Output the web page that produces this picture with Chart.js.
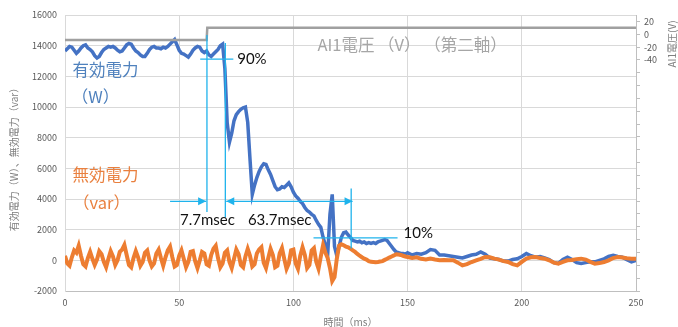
<!DOCTYPE html>
<html>
<head>
<meta charset="utf-8">
<script src="https://cdn.jsdelivr.net/npm/chart.js@4/dist/chart.umd.min.js"></script>
<style>
    html, body { margin: 0; padding: 0; background: #fff; }
</style>
</head>
<body>
<canvas id="chart" width="678" height="327"></canvas>
<script>
"use strict";

// time axis (ms)
const timeMs = [
    0, 1, 2, 3, 4, 5, 6, 7, 8, 9, 10, 11, 12, 13, 14, 15, 16, 17, 18, 19,
    20, 21, 22, 23, 24, 25, 26, 27, 28, 29, 30, 31, 32, 33, 34, 35, 36, 37, 38, 39,
    40, 41, 42, 43, 44, 45, 46, 47, 48, 49, 50, 51, 52, 53, 54, 55, 56, 57, 58, 59,
    60, 61, 62, 63, 64, 65, 66, 67, 68, 69, 70, 71, 72, 73, 74, 75, 76, 77, 78, 79,
    80, 81, 82, 83, 84, 85, 86, 87, 88, 89, 90, 91, 92, 93, 94, 95, 96, 97, 98, 99,
    100, 101, 102, 103, 104, 105, 106, 107, 108, 109, 110, 111, 112, 113, 114, 115, 116, 117, 118, 119,
    120, 121, 122, 123, 124, 125, 126, 127, 128, 129, 130, 131, 132, 133, 134, 135, 136, 137, 138, 139,
    140, 141, 142, 143, 144, 145, 146, 147, 148, 149, 150,
    152, 154, 156, 158, 160, 162, 164, 166, 168, 170,
    172, 174, 176, 178, 180, 182, 184, 186, 188, 190,
    192, 194, 196, 198, 200, 202, 204, 206, 208, 210,
    212, 214, 216, 218, 220, 222, 224, 226, 228, 230,
    232, 234, 236, 238, 240, 242, 244, 246, 248, 250
];

// 有効電力 (W)
const activePower = [
    13650, 13800, 13950, 13900, 13700, 13500, 13650, 13850, 14000, 14050,
    13850, 13750, 13600, 13350, 13200, 13300, 13550, 13750, 13850, 13950,
    13900, 13950, 13850, 13700, 13600, 13650, 13850, 14050, 14150, 14100,
    13850, 13650, 13550, 13400, 13300, 13300, 13500, 13750, 13900, 13950,
    13850, 13850, 13800, 13900, 13850, 13950, 14100, 14250, 14400, 14050,
    13700, 13500, 13450, 13350, 13250, 13450, 13700, 13850, 13950, 13900,
    13650, 13550, 13650, 13400, 13300, 13450, 13600, 13750, 14000, 14100,
    12500, 9000, 7700, 8300, 9100, 9500, 9700, 9850, 9950, 10000,
    9000, 6600, 4300, 4900, 5400, 5800, 6100, 6300, 6250, 5900,
    5600, 5200, 4800, 4600, 4650, 4800, 4750, 4900, 5050, 4800,
    4450, 4200, 4050, 3850, 3700, 3450, 3250, 3150, 3000, 2900,
    2600, 2350, 2150, 1500, 1000, 350, 3000, 4300, 900, 300,
    900, 1500, 1800, 1850, 1650, 1500, 1300, 1250, 1200, 1250,
    1150, 1200, 1100, 1150, 1100, 1150, 1100, 1200, 1250, 1300,
    1350, 1300, 1100, 900, 700, 550, 500, 450, 450, 400,
    500,
    350, 450, 400, 500, 700, 650, 350, 350, 300, 250,
    200, 150, 250, 350, 400, 550, 400, 150, 100, 50,
    -50, -50, 50, 100, 250, 450, 300, 200, 250, 150,
    50, -150, -200, 50, 200, 50, -150, -200, -150, -100,
    -100, 0, 100, 250, 330, 250, 200, 50, -100, 0
];

// 無効電力 (var)
const reactivePower = [
    300, -200, -350, 200, 650, 500, 950, 300, -250, -400,
    150, 550, 100, -300, 50, 600, 400, -100, -450, 100,
    600, 250, -300, 0, 550, 700, 1000, 350, -300, -450,
    150, 600, 200, -350, -100, 500, 650, 0, -400, -200,
    450, 700, 150, -350, 200, 650, 900, 200, -400, -300,
    300, 650, 100, -450, -100, 550, 600, -50, -500, 0,
    550, 450, -250, -350, 350, 750, 950, 150, -450, -200,
    500, 650, -100, -500, 100, 700, 400, -300, -450, 250,
    750, 300, -400, -250, 450, 700, 850, -150, -500, 150,
    750, 350, -450, -350, 450, 800, 100, -550, -200, 650,
    700, -200, -550, 300, 850, 350, -500, -300, 650, 800,
    -100, -550, 250, 1000, 500, 150, -500, -1350, -1100, 100,
    950, 1050, 980, 900, 850, 760, 650, 550, 420, 300,
    200, 110, 50, -50, -100, -110, -120, -110, -80, -50,
    30, 100, 180, 250, 320, 400, 380, 350, 300, 250,
    220,
    150, 200, 100, 50, 110, 50, 0, 20, 0, 0,
    -150, -330, -250, -110, 0, 100, 220, 200, 110, 50,
    -50, -110, -250, -330, -100, 110, 200, 220, 150, 110,
    0, -150, -215, -100, 0, 20, 80, 110, 50, -100,
    -215, -180, -110, 0, 150, 220, 180, 130, 110, 110
];

// AI1電圧 (V), second axis
const voltTime = [0, 20, 40, 62, 62.3, 100, 150, 200, 250];
const voltValues = [-9, -9, -9, -9, 10, 10, 10, 10, 10];

const leftTicks = { min: -2000, max: 16000, step: 2000 };
const rightTicks = { min: -400, max: 30, step: 20, shown: [20, 0, -20, -40] };
const xTicks = { min: 0, max: 250, step: 50 };

const CYAN = '#1fb3ec';
const JP = '"Noto Sans CJK JP", "Noto Sans", sans-serif';

function pts(xs, ys) {
    const out = [];
    for (let i = 0; i < xs.length; i++) {
        out.push({ x: xs[i], y: ys[i] });
    }
    return out;
}

// cyan marker lines, in data units [x1, y1, x2, y2]
const markLines = [
    [62.15, 14700, 62.15, 3160],
    [70.2, 14180, 70.2, 2790],
    [125.3, 4690, 125.3, 765],
    [59.2, 13120, 73.7, 13120],
    [108.8, 1460, 145.6, 1460],
    [46.0, 3850, 61.8, 3850],
    [70.6, 3850, 125.9, 3850]
];
// arrow tips [x, y, direction]
const arrowTips = [
    [61.8, 3850, 1],
    [70.6, 3850, -1],
    [125.9, 3850, 1]
];

const notePlugin = {
    id: 'notes',
    afterDatasetsDraw(chart) {
        const ctx = chart.ctx;
        const xs = chart.scales.x;
        const ys = chart.scales.y;
        ctx.save();
        ctx.strokeStyle = CYAN;
        ctx.fillStyle = CYAN;
        ctx.lineWidth = 1.3;
        markLines.forEach(function (l) {
            ctx.beginPath();
            ctx.moveTo(xs.getPixelForValue(l[0]), ys.getPixelForValue(l[1]));
            ctx.lineTo(xs.getPixelForValue(l[2]), ys.getPixelForValue(l[3]));
            ctx.stroke();
        });
        arrowTips.forEach(function (a) {
            const px = xs.getPixelForValue(a[0]);
            const py = ys.getPixelForValue(a[1]);
            ctx.beginPath();
            ctx.moveTo(px, py);
            ctx.lineTo(px - a[2] * 8, py - 4);
            ctx.lineTo(px - a[2] * 8, py + 4);
            ctx.closePath();
            ctx.fill();
        });

        function text(str, x, y, color, font, align) {
            ctx.fillStyle = color;
            ctx.font = font;
            ctx.textAlign = align || 'left';
            ctx.textBaseline = 'middle';
            ctx.fillText(str, xs.getPixelForValue(x), ys.getPixelForValue(y));
        }
        const big = '16.5px ' + JP;
        const num = '15px Lato, "Noto Sans", sans-serif';
        text('有効電力', 3.3, 12420, '#4f81bd', big);
        text('（W）', 3.0, 10650, '#4f81bd', big);
        text('無効電力', 3.3, 5560, '#e9803f', big);
        text('（var）', 3.5, 3730, '#e9803f', big);
        text('AI1電圧 （V） （第二軸）', 110.5, 14050, '#a6a6a6', big);
        text('90%', 75.4, 13120, '#111', num);
        text('10%', 148.2, 1760, '#111', num);
        text('7.7msec', 62.4, 2610, '#111', num, 'center');
        text('63.7msec', 94.0, 2610, '#111', num, 'center');
        ctx.restore();
    },
    afterDraw(chart) {
        const ctx = chart.ctx;
        const area = chart.chartArea;
        ctx.save();
        ctx.fillStyle = '#7f7f7f';
        ctx.font = '10px ' + JP;
        ctx.textAlign = 'center';
        ctx.textBaseline = 'middle';
        ctx.fillText('時間（ms）', (area.left + area.right) / 2, 322);

        ctx.translate(14, (area.top + area.bottom) / 2 + 4);
        ctx.rotate(-Math.PI / 2);
        ctx.fillText('有効電力（W）、無効電力（var）', 0, 0);
        ctx.restore();

        ctx.save();
        ctx.fillStyle = '#7f7f7f';
        ctx.font = '10px ' + JP;
        ctx.textAlign = 'center';
        ctx.textBaseline = 'middle';
        ctx.translate(672, 44);
        ctx.rotate(-Math.PI / 2);
        ctx.fillText('AI1電圧(V)', 0, 0);
        ctx.restore();
    }
};

const tickFont = { family: JP, size: 9 };
function plain(v) {
    return String(v);
}

new Chart(document.getElementById('chart'), {
    type: 'line',
    data: {
        datasets: [
            {
                label: 'AI1電圧',
                data: pts(voltTime, voltValues),
                yAxisID: 'y2',
                borderColor: '#a0a0a0',
                borderWidth: 2.5,
                pointRadius: 0,
                tension: 0,
                order: 1
            },
            {
                label: '無効電力',
                data: pts(timeMs, reactivePower),
                yAxisID: 'y',
                borderColor: '#ed7d31',
                borderWidth: 4,
                pointRadius: 0,
                tension: 0,
                order: 2
            },
            {
                label: '有効電力',
                data: pts(timeMs, activePower),
                yAxisID: 'y',
                borderColor: '#4472c4',
                borderWidth: 3.5,
                pointRadius: 0,
                tension: 0,
                order: 3
            }
        ]
    },
    options: {
        responsive: false,
        animation: false,
        layout: { padding: { top: 15 } },
        plugins: {
            legend: { display: false },
            tooltip: { enabled: false }
        },
        scales: {
            x: {
                type: 'linear',
                min: xTicks.min,
                max: xTicks.max,
                ticks: { stepSize: xTicks.step, color: '#595959', font: tickFont, padding: 6, callback: plain },
                grid: { color: '#d9d9d9', drawTicks: false },
                border: { color: '#bfbfbf' },
                afterFit(scale) { scale.height = 36; }
            },
            y: {
                position: 'left',
                min: leftTicks.min,
                max: leftTicks.max,
                ticks: { stepSize: leftTicks.step, color: '#595959', font: tickFont, padding: 8, callback: plain },
                grid: { color: '#d9d9d9', drawTicks: false },
                border: { color: '#d9d9d9' },
                afterFit(scale) { scale.width = 65; }
            },
            y2: {
                position: 'right',
                min: rightTicks.min,
                max: rightTicks.max,
                ticks: {
                    stepSize: rightTicks.step,
                    includeBounds: false,
                    autoSkip: false,
                    color: '#595959',
                    font: tickFont,
                    padding: 4,
                    callback: function (v) {
                        return rightTicks.shown.indexOf(v) >= 0 ? String(v) : '';
                    }
                },
                grid: { drawOnChartArea: false, tickLength: 4, color: '#bfbfbf' },
                border: { color: '#bfbfbf' },
                afterFit(scale) { scale.width = 42; }
            }
        }
    },
    plugins: [notePlugin]
});
</script>
</body>
</html>
